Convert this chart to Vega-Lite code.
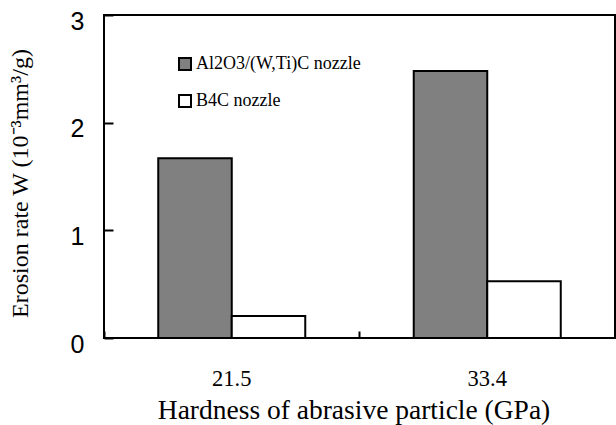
{
  "$schema": "https://vega.github.io/schema/vega-lite/v6.json",
  "autosize": "none",
  "width": 511,
  "height": 323,
  "padding": {"left": 104, "top": 15, "right": 1, "bottom": 87},
  "background": "white",
  "config": {
    "view": {"stroke": "black", "strokeWidth": 2},
    "font": "Liberation Serif"
  },
  "data": {
    "values": [
      {"hardness": "21.5", "nozzle": "Al2O3/(W,Ti)C nozzle", "rate": 1.67},
      {"hardness": "21.5", "nozzle": "B4C nozzle", "rate": 0.205},
      {"hardness": "33.4", "nozzle": "Al2O3/(W,Ti)C nozzle", "rate": 2.48},
      {"hardness": "33.4", "nozzle": "B4C nozzle", "rate": 0.527}
    ]
  },
  "mark": {"type": "bar", "stroke": "black", "strokeWidth": 2},
  "encoding": {
    "x": {
      "field": "hardness",
      "type": "nominal",
      "scale": {"paddingInner": 0, "paddingOuter": 0},
      "axis": {
        "title": "Hardness of abrasive particle (GPa)",
        "titleFont": "Liberation Serif",
        "titleFontSize": 27.5,
        "titleFontWeight": "normal",
        "titleColor": "black",
        "titleBaseline": "alphabetic",
        "titleX": 249.5,
        "titleY": 80,
        "labelFont": "Liberation Serif",
        "labelFontSize": 22.5,
        "labelColor": "black",
        "labelAngle": 0,
        "labelBaseline": "alphabetic",
        "labelPadding": 54,
        "domain": false,
        "bandPosition": 0,
        "ticks": true,
        "tickSize": -7,
        "tickWidth": 2,
        "tickColor": "black"
      }
    },
    "xOffset": {
      "field": "nozzle",
      "type": "nominal",
      "scale": {"paddingInner": 0, "paddingOuter": 0.738}
    },
    "y": {
      "field": "rate",
      "type": "quantitative",
      "scale": {"domain": [0, 3], "nice": false},
      "axis": {
        "title": "Erosion rate W (10⁻³mm³/g)",
        "titleFont": "Liberation Serif",
        "titleFontSize": 24,
        "titleFontWeight": "normal",
        "titleColor": "black",
        "titleBaseline": "alphabetic",
        "titleAlign": "center",
        "titleX": -77,
        "titleY": 168,
        "labelFont": "Liberation Sans",
        "labelFontSize": 25,
        "labelColor": "black",
        "labelPadding": 29,
        "labelOffset": 6,
        "values": [0, 1, 2, 3],
        "grid": false,
        "domain": false,
        "tickSize": -9,
        "tickWidth": 2,
        "tickColor": "black"
      }
    },
    "fill": {
      "field": "nozzle",
      "type": "nominal",
      "scale": {"domain": ["Al2O3/(W,Ti)C nozzle", "B4C nozzle"], "range": ["#808080", "#ffffff"]},
      "legend": {
        "title": null,
        "orient": "none",
        "legendX": 72,
        "legendY": 40,
        "symbolType": "square",
        "symbolSize": 144,
        "symbolStrokeColor": "black",
        "symbolStrokeWidth": 2,
        "symbolOpacity": 1,
        "labelFont": "Liberation Serif",
        "labelFontSize": 18,
        "labelLimit": 400,
        "labelColor": "black",
        "labelOffset": 2,
        "rowPadding": 17
      }
    }
  }
}
